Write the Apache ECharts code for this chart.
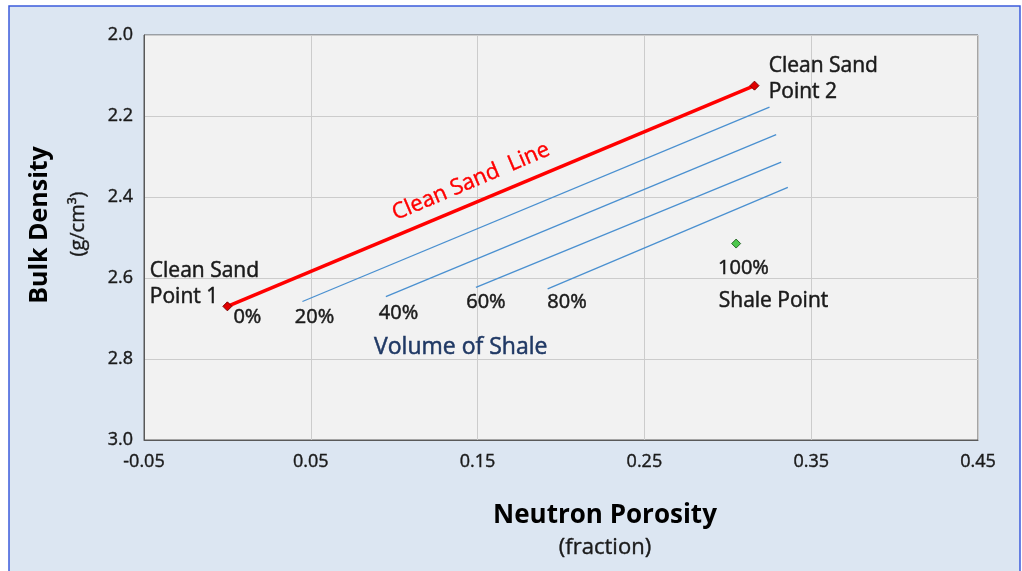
<!DOCTYPE html>
<html>
<head>
<meta charset="utf-8">
<script src="https://cdn.jsdelivr.net/npm/echarts@6/dist/echarts.min.js"></script>
<style>
html,body{margin:0;padding:0;background:#fff;}
#c{width:1022px;height:571px;}
</style>
</head>
<body>
<div id="c"></div>
<script>
// Data
const cleanSandLine = [[0.0, 2.67], [0.316, 2.125]];
const shalePoint = [[0.305, 2.515]];
const vshLines = {
  '20%': [[0.045, 2.658], [0.325, 2.178]],
  '40%': [[0.095, 2.646], [0.329, 2.246]],
  '60%': [[0.149, 2.623], [0.332, 2.314]],
  '80%': [[0.192, 2.627], [0.336, 2.376]]
};
const xTicks = [-0.05, 0.05, 0.15, 0.25, 0.35, 0.45];
const yTicks = [2.0, 2.2, 2.4, 2.6, 2.8, 3.0];
// annotation texts with anchor in data units
const annotations = [
  {text: 'Clean Sand\nPoint 1', at: [-0.0465, 2.614], align: 'left', size: 21, color: '#1a1a1a'},
  {text: 'Clean Sand\nPoint 2', at: [0.3245, 2.109], align: 'left', size: 21, color: '#1a1a1a'},
  {text: '0%', at: [0.012, 2.698], align: 'center', size: 20, color: '#1a1a1a'},
  {text: '20%', at: [0.0522, 2.696], align: 'center', size: 20, color: '#1a1a1a'},
  {text: '40%', at: [0.1026, 2.686], align: 'center', size: 20, color: '#1a1a1a'},
  {text: '60%', at: [0.155, 2.661], align: 'center', size: 20, color: '#1a1a1a'},
  {text: '80%', at: [0.2036, 2.661], align: 'center', size: 20, color: '#1a1a1a'},
  {text: '100%', at: [0.3094, 2.577], align: 'center', size: 20, color: '#1a1a1a'},
  {text: 'Shale Point', at: [0.3274, 2.656], align: 'center', size: 21, color: '#1a1a1a'},
  {text: 'Volume of Shale', at: [0.1399, 2.772], align: 'center', size: 23, color: '#1f3864'}
];

const FONT = '"Open Sans", "Noto Sans", sans-serif';
const chart = echarts.init(document.getElementById('c'));

const series = [];
Object.keys(vshLines).forEach(k => {
  series.push({
    type: 'line', data: vshLines[k], symbol: 'none', silent: true,
    lineStyle: {color: '#4a90d0', width: 1.3}, z: 3
  });
});
series.push({
  type: 'line', data: cleanSandLine, symbol: 'diamond', symbolSize: 9,
  itemStyle: {color: '#e00000', borderColor: '#7a0000', borderWidth: 1},
  lineStyle: {color: '#ff0000', width: 3.5}, z: 5
});
series.push({
  type: 'scatter', data: shalePoint, symbol: 'diamond', symbolSize: 9,
  itemStyle: {color: '#22bb22', borderColor: '#105010', borderWidth: 1}, z: 5
});
series.push({
  type: 'scatter', symbol: 'circle', symbolSize: 1, silent: true, z: 6,
  itemStyle: {color: 'rgba(0,0,0,0)'},
  data: annotations.map(a => ({
    value: a.at,
    label: {
      show: true, position: 'inside', formatter: a.text, align: a.align,
      verticalAlign: 'middle', opacity: 1,
      color: a.color, fontSize: a.size, fontFamily: FONT, lineHeight: 26,
      textBorderColor: a.color, textBorderWidth: 0.5
    }
  }))
});
series.push({
  type: 'scatter', symbol: 'circle', symbolSize: 1, silent: true, z: 6,
  itemStyle: {color: 'rgba(0,0,0,0)'},
  data: [{
    value: [0.146, 2.362],
    label: {show: true, position: 'inside', formatter: 'Clean Sand  Line', rotate: 23,
      align: 'center', verticalAlign: 'middle', opacity: 1,
      color: '#ff0000', fontSize: 22, fontFamily: FONT,
      textBorderColor: '#ff0000', textBorderWidth: 0.4}
  }]
});

const tickLabel = {fontSize: 18, fontFamily: FONT, color: '#1a1a1a',
  textBorderColor: '#1a1a1a', textBorderWidth: 0.4};

chart.setOption({
  animation: false,
  backgroundColor: '#ffffff',
  grid: {left: 144, right: 44, top: 35, bottom: 131, show: true,
    backgroundColor: '#f2f2f2', borderColor: '#595959', borderWidth: 1},
  xAxis: {
    type: 'value', min: xTicks[0], max: xTicks[xTicks.length - 1], interval: 0.1,
    axisLine: {show: true, onZero: false, lineStyle: {color: '#595959', width: 1}},
    axisTick: {show: false},
    splitLine: {show: true, lineStyle: {color: '#cccccc', width: 1}},
    axisLabel: Object.assign({margin: 13, formatter: v => v.toFixed(2)}, tickLabel)
  },
  yAxis: {
    type: 'value', inverse: true, min: yTicks[0], max: yTicks[yTicks.length - 1], interval: 0.2,
    axisLine: {show: true, onZero: false, lineStyle: {color: '#595959', width: 1}},
    axisTick: {show: false},
    splitLine: {show: true, lineStyle: {color: '#cccccc', width: 1}},
    axisLabel: Object.assign({margin: 11, formatter: v => v.toFixed(1)}, tickLabel)
  },
  series: series
});

chart.setOption({
  graphic: [{
    type: 'rect', shape: {x: 9, y: 6, width: 1011, height: 570}, z: -10, silent: true,
    style: {fill: '#dce6f2', stroke: '#3b5bdb', lineWidth: 1.5}
  }, {
    type: 'text', x: 605, y: 516, z: 10,
    style: {text: 'Neutron Porosity', fontSize: 26, fontWeight: 'bold', fontFamily: FONT, fill: '#000',
      align: 'center', verticalAlign: 'middle'}
  }, {
    type: 'text', x: 605, y: 548, z: 10,
    style: {text: '(fraction)', fontSize: 22, fontFamily: FONT, fill: '#1a1a1a',
      stroke: '#1a1a1a', lineWidth: 0.4,
      align: 'center', verticalAlign: 'middle'}
  }, {
    type: 'text', x: 40, y: 225, rotation: Math.PI / 2, z: 10,
    style: {text: 'Bulk Density', fontSize: 25, fontWeight: 'bold', fontFamily: FONT, fill: '#000',
      align: 'center', verticalAlign: 'middle'}
  }, {
    type: 'text', x: 78, y: 224, rotation: Math.PI / 2, z: 10,
    style: {text: '(g/cm³)', fontSize: 20, fontFamily: FONT, fill: '#1a1a1a',
      stroke: '#1a1a1a', lineWidth: 0.4,
      align: 'center', verticalAlign: 'middle'}
  }]
});
</script>
</body>
</html>
